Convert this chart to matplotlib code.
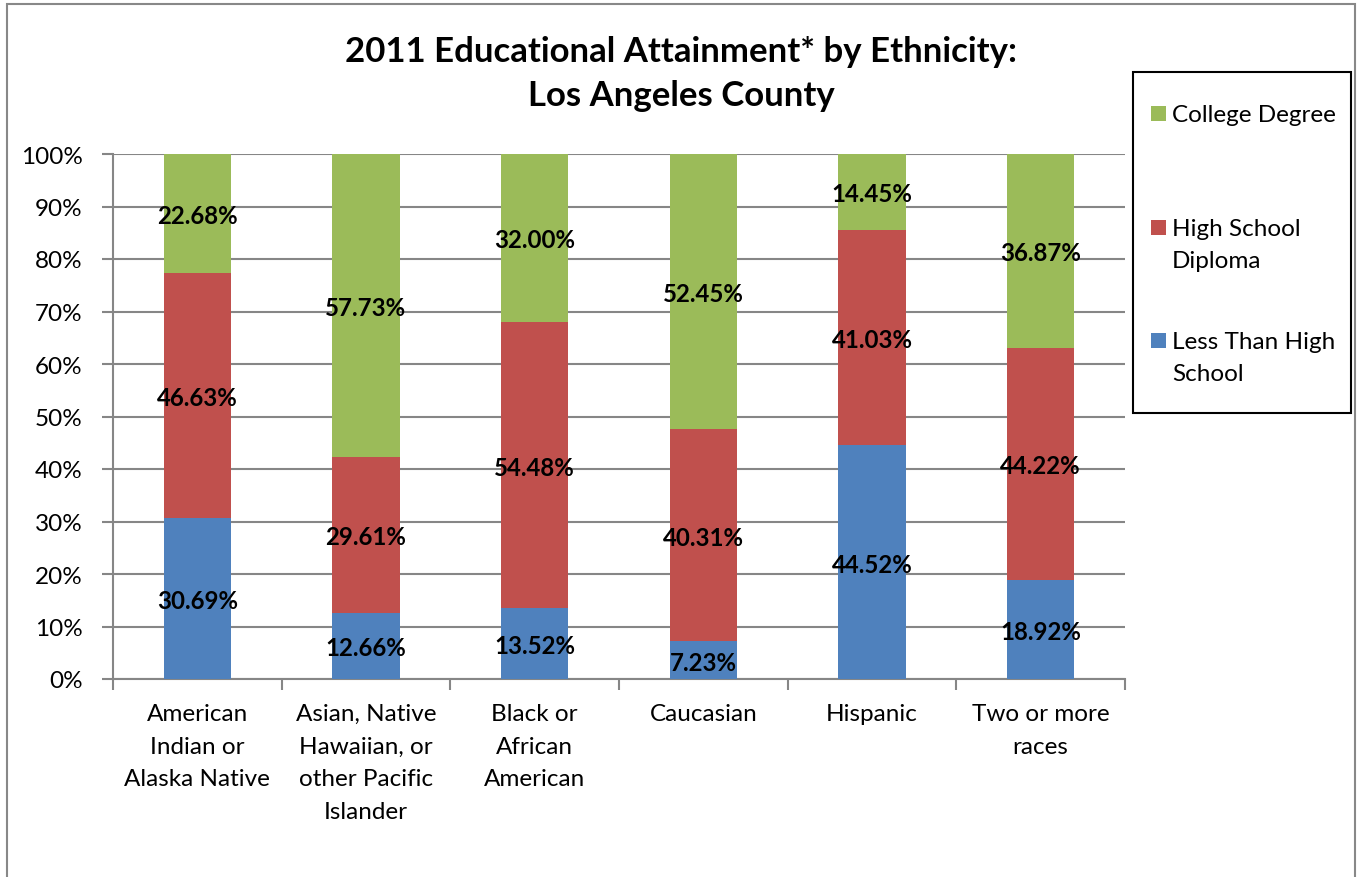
import matplotlib
matplotlib.use("Agg")
import matplotlib.pyplot as plt
from matplotlib.patches import Rectangle
from matplotlib.ticker import FixedLocator, PercentFormatter
import numpy as np

plt.rcParams['font.family'] = ['Lato', 'DejaVu Sans']

categories = ["American\nIndian or\nAlaska Native",
              "Asian, Native\nHawaiian, or\nother Pacific\nIslander",
              "Black or\nAfrican\nAmerican",
              "Caucasian",
              "Hispanic",
              "Two or more\nraces"]
less_than_hs = [30.69, 12.66, 13.52, 7.23, 44.52, 18.92]
high_school = [46.63, 29.61, 54.48, 40.31, 41.03, 44.22]
college = [22.68, 57.73, 32.00, 52.45, 14.45, 36.87]
series_names = ["Less Than High\nSchool", "High School\nDiploma", "College Degree"]
colors = ["#4F81BD", "#C0504D", "#9BBB59"]
title = "2011 Educational Attainment* by Ethnicity:\nLos Angeles County"

W, H = 1357, 878
fig = plt.figure(figsize=(W / 100, H / 100), dpi=100)

def fx(px):
    return px / W

def fy(py):
    return 1 - py / H

ax = fig.add_axes([fx(113), fy(680), fx(1125) - fx(113), fy(155) - fy(680)])

x = np.arange(len(categories))
bottom = np.zeros(len(categories))
series = [less_than_hs, high_school, college]
for vals, col in zip(series, colors):
    vals = np.array(vals)
    ax.bar(x, vals, 0.40, bottom=bottom, color=col, zorder=3)
    for xi, b, v in zip(x, bottom, vals):
        ax.annotate(f"{v:.2f}%", (xi, b + v / 2), xytext=(0, -2),
                    textcoords='offset pixels', ha='center', va='center',
                    fontsize=17.3, fontweight='bold', color='black', zorder=4)
    bottom = bottom + vals

ax.set_xlim(-0.5, len(categories) - 0.5)
ax.set_ylim(0, 100)
ax.yaxis.set_major_locator(FixedLocator(np.arange(0, 101, 10)))
ax.yaxis.set_major_formatter(PercentFormatter(decimals=0))
ax.yaxis.grid(True, color='#868686', linewidth=1.5, zorder=0)
ax.set_axisbelow(True)

ax.set_xticks(x)
ax.set_xticklabels(categories, fontsize=17.5, linespacing=1.7, va='top')
ax.set_xticks(np.arange(-0.5, len(categories), 1), minor=True)
ax.tick_params(axis='x', which='major', length=0, pad=17)
ax.tick_params(axis='x', which='minor', length=8, width=1.5, color='#868686', direction='out')
ax.tick_params(axis='y', which='major', length=8, width=1.5, color='#868686',
               direction='out', labelsize=17.5, pad=14)

for s in ['top', 'right']:
    ax.spines[s].set_visible(False)
for s in ['left', 'bottom']:
    ax.spines[s].set_color('#868686')
    ax.spines[s].set_linewidth(1.5)

fig.text(fx(681), fy(74), title, ha='center', va='center', fontsize=25,
         fontweight='bold', linespacing=1.45)

# outer chart border
fig.patches.append(Rectangle((fx(7), fy(890)), fx(1355) - fx(7), fy(5) - fy(890),
                             transform=fig.transFigure, fill=False,
                             edgecolor='#888888', linewidth=1.5))

# legend box
fig.patches.append(Rectangle((fx(1133), fy(414)), fx(1351) - fx(1133), fy(73) - fy(414),
                             transform=fig.transFigure, fill=False,
                             edgecolor='black', linewidth=1.5))
leg_y = [341, 228, 114]
for name, col, yy in zip(series_names, colors, leg_y):
    fig.patches.append(Rectangle((fx(1151), fy(yy + 7.5)), fx(15), 15 / H,
                                 transform=fig.transFigure, facecolor=col,
                                 edgecolor='none'))
    fig.text(fx(1172), fy(yy - 9), name, ha='left', va='top', fontsize=17.5,
             linespacing=1.62)

fig.savefig("out.png", dpi=100)
